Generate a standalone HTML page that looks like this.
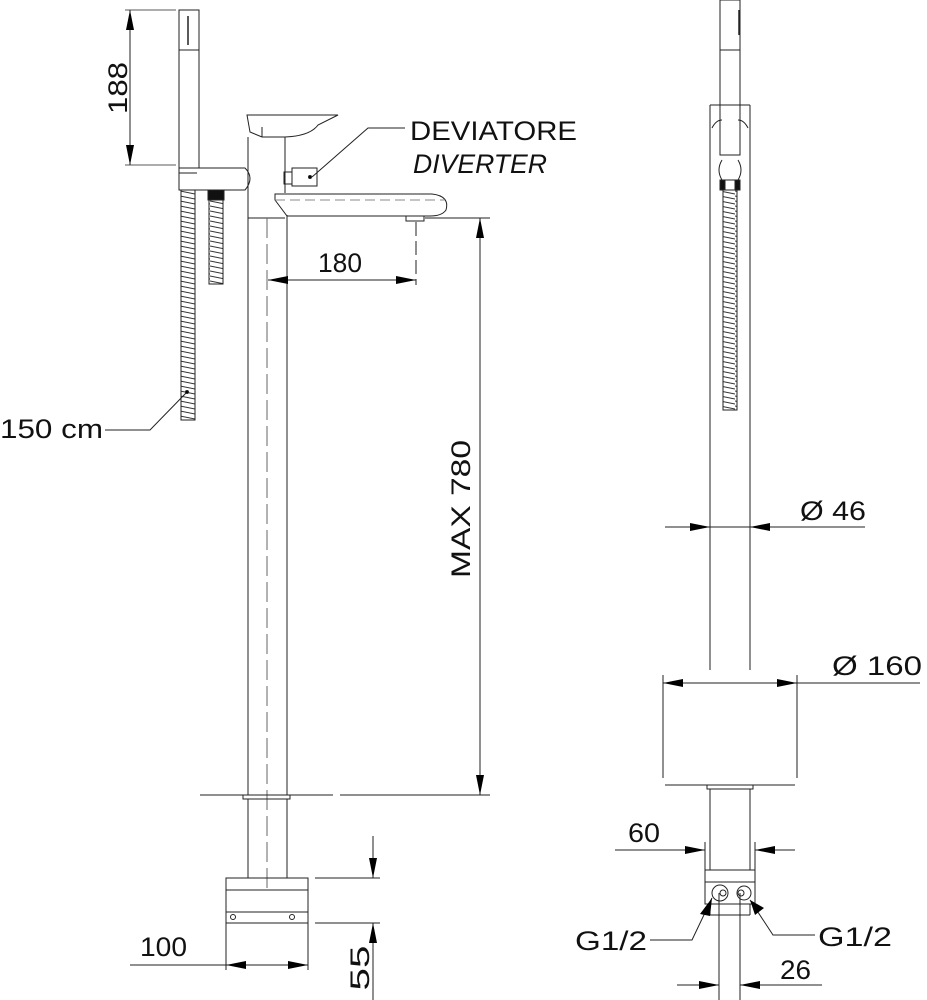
<!DOCTYPE html>
<html><head><style>
html,body{margin:0;padding:0;background:#fff;}
svg{display:block;}
text{font-family:"Liberation Sans",sans-serif;fill:#111;}
</style></head><body>
<svg width="927" height="1000" viewBox="0 0 927 1000" xmlns="http://www.w3.org/2000/svg">
<defs>
<marker id="a" viewBox="0 0 10 6" refX="10" refY="3" markerWidth="20" markerHeight="8" orient="auto-start-reverse" markerUnits="userSpaceOnUse" preserveAspectRatio="none"><path d="M0,0 L10,3 L0,6 z" fill="#000"/></marker>
<pattern id="hose" width="15" height="5" patternUnits="userSpaceOnUse"><path d="M0,1 L15,4" stroke="#333" stroke-width="1"/></pattern>
</defs>
<g fill="none" stroke="#222" stroke-width="1">
<line x1="125" y1="10" x2="176" y2="10" stroke-width="0.8"/>
<line x1="125" y1="165" x2="176" y2="165" stroke-width="0.8"/>
<line x1="130" y1="10" x2="130" y2="165" marker-start="url(#a)" marker-end="url(#a)"/>
<rect x="179" y="10" width="20" height="158"/>
<line x1="179" y1="50" x2="199" y2="50"/>
<line x1="188" y1="16" x2="188" y2="45" stroke-width="1.5"/>
<path d="M179,168 H245 Q255,178 245,190 H179 Z"/>
<line x1="179" y1="173" x2="197" y2="173"/>
<rect x="181" y="190" width="14" height="230" fill="url(#hose)"/>
<rect x="209" y="198" width="14" height="86" fill="url(#hose)"/>
<rect x="208" y="190" width="16" height="10" fill="#111"/>
<path d="M247,115 H338 L318,125 Q310,136 285,137 L262,137 L250,132 Z"/>
<line x1="262" y1="137" x2="262" y2="127"/>
<line x1="248" y1="137" x2="248" y2="795"/>
<line x1="285" y1="137" x2="285" y2="193"/>
<line x1="287" y1="215" x2="287" y2="795"/>
<line x1="248" y1="218" x2="285" y2="218"/>
<rect x="284" y="172" width="8" height="12"/>
<rect x="292" y="168" width="25" height="18"/>
<circle cx="310" cy="177" r="1.5" fill="#000"/>
<path d="M275,194 H432 Q450,196 446,210 Q442,216 430,216 H287 L275,200 Z"/>
<line x1="275" y1="200" x2="445" y2="200" stroke-dasharray="10,5" stroke="#888"/>
<rect x="406" y="216" width="18" height="5"/>
<line x1="267" y1="218" x2="267" y2="890" stroke-dasharray="20,6" stroke="#666"/>
<line x1="416" y1="222" x2="416" y2="285" stroke-dasharray="14,5"/>
<line x1="268" y1="280" x2="416" y2="280" marker-start="url(#a)" marker-end="url(#a)"/>
<line x1="425" y1="218" x2="490" y2="218"/>
<line x1="480" y1="218" x2="480" y2="795" marker-start="url(#a)" marker-end="url(#a)"/>
<line x1="200" y1="795" x2="333" y2="795"/>
<line x1="340" y1="795" x2="490" y2="795"/>
<rect x="243" y="795" width="47" height="4"/>
<line x1="248" y1="799" x2="248" y2="878"/>
<line x1="287" y1="799" x2="287" y2="878"/>
<rect x="226" y="878" width="82" height="45"/>
<line x1="226" y1="890" x2="308" y2="890"/>
<line x1="226" y1="912" x2="308" y2="912"/>
<circle cx="233" cy="917" r="2.5"/>
<circle cx="292" cy="917" r="2.5"/>
<line x1="226" y1="923" x2="226" y2="970"/>
<line x1="308" y1="923" x2="308" y2="970"/>
<line x1="130" y1="965" x2="226" y2="965"/>
<line x1="226" y1="965" x2="308" y2="965" marker-start="url(#a)" marker-end="url(#a)"/>
<line x1="315" y1="878" x2="380" y2="878"/>
<line x1="315" y1="923" x2="380" y2="923"/>
<line x1="373" y1="836" x2="373" y2="878" marker-end="url(#a)"/>
<line x1="373" y1="1000" x2="373" y2="923" marker-end="url(#a)"/>
<polyline points="105,430 150,430 187,392"/>
<circle cx="187" cy="392" r="1.5" fill="#000"/>
<polyline points="405,128 368,128 312,177"/>

<rect x="720" y="0" width="20" height="155"/>
<line x1="720" y1="50" x2="740" y2="50"/>
<line x1="739" y1="10" x2="739" y2="35" stroke-width="1.5"/>
<line x1="710" y1="105" x2="710" y2="670"/>
<line x1="750" y1="105" x2="750" y2="670"/>
<line x1="710" y1="105" x2="750" y2="105"/>
<path d="M712,128 Q716,120 722,120 M748,128 Q744,120 738,120"/>
<path d="M722,160 Q716,170 722,180 H738 Q744,170 738,160"/>
<rect x="720" y="180" width="5" height="10" fill="#111"/>
<rect x="735" y="180" width="5" height="10" fill="#111"/>
<rect x="723" y="190" width="14" height="220" fill="url(#hose)"/>
<line x1="665" y1="527" x2="710" y2="527" marker-end="url(#a)"/>
<line x1="865" y1="527" x2="750" y2="527" marker-end="url(#a)"/>
<line x1="710" y1="527" x2="750" y2="527"/>
<line x1="663" y1="675" x2="663" y2="778"/>
<line x1="797" y1="675" x2="797" y2="778"/>
<line x1="663" y1="683" x2="797" y2="683" marker-start="url(#a)" marker-end="url(#a)"/>
<line x1="797" y1="683" x2="920" y2="683"/>
<line x1="665" y1="785" x2="795" y2="785"/>
<rect x="707" y="785" width="46" height="4"/>
<line x1="710" y1="789" x2="710" y2="870"/>
<line x1="750" y1="789" x2="750" y2="870"/>
<line x1="705" y1="842" x2="705" y2="870"/>
<line x1="755" y1="842" x2="755" y2="870"/>
<line x1="615" y1="850" x2="705" y2="850" marker-end="url(#a)"/>
<line x1="795" y1="850" x2="755" y2="850" marker-end="url(#a)"/>
<rect x="705" y="870" width="50" height="12"/>
<rect x="705" y="882" width="50" height="22"/>
<line x1="710" y1="904" x2="710" y2="915"/>
<line x1="750" y1="904" x2="750" y2="915"/>
<line x1="710" y1="915" x2="750" y2="915"/>
<circle cx="720" cy="893" r="8"/>
<circle cx="723" cy="893" r="3"/>
<circle cx="744" cy="893" r="7"/>
<circle cx="741" cy="893" r="3"/>
<polyline points="650,940 692,940 712,898"/>
<polyline points="815,935 773,935 750,900"/>
<line x1="719" y1="893" x2="719" y2="1000"/>
<line x1="740" y1="893" x2="740" y2="1000"/>
<line x1="677" y1="985" x2="719" y2="985" marker-end="url(#a)"/>
<line x1="822" y1="985" x2="740" y2="985" marker-end="url(#a)"/>
</g>
<g stroke="none">
<polygon points="712,898 700,914 710,916" fill="#000"/>
<polygon points="750,900 755,915 764,908" fill="#000"/>
</g>
<g font-size="27">
<text transform="translate(127,88) rotate(-90)" text-anchor="middle" textLength="52" lengthAdjust="spacingAndGlyphs">188</text>
<text x="410" y="140" textLength="167" lengthAdjust="spacingAndGlyphs">DEVIATORE</text>
<text x="413" y="173" font-style="italic" textLength="134" lengthAdjust="spacingAndGlyphs">DIVERTER</text>
<text x="318" y="272" textLength="44" lengthAdjust="spacingAndGlyphs">180</text>
<text x="0" y="438" textLength="103" lengthAdjust="spacingAndGlyphs">150 cm</text>
<text transform="translate(470,509) rotate(-90)" text-anchor="middle" textLength="138" lengthAdjust="spacingAndGlyphs">MAX  780</text>
<text x="140" y="956" textLength="47" lengthAdjust="spacingAndGlyphs">100</text>
<text transform="translate(369,968) rotate(-90)" text-anchor="middle" textLength="45" lengthAdjust="spacingAndGlyphs">55</text>
<text x="800" y="520" textLength="66" lengthAdjust="spacingAndGlyphs">Ø 46</text>
<text x="832" y="675" textLength="90" lengthAdjust="spacingAndGlyphs">Ø 160</text>
<text x="628" y="842" textLength="32" lengthAdjust="spacingAndGlyphs">60</text>
<text x="575" y="950" textLength="72" lengthAdjust="spacingAndGlyphs">G1/2</text>
<text x="818" y="946" textLength="74" lengthAdjust="spacingAndGlyphs">G1/2</text>
<text x="780" y="979" textLength="31" lengthAdjust="spacingAndGlyphs">26</text>
</g>
</svg>
</body></html>
